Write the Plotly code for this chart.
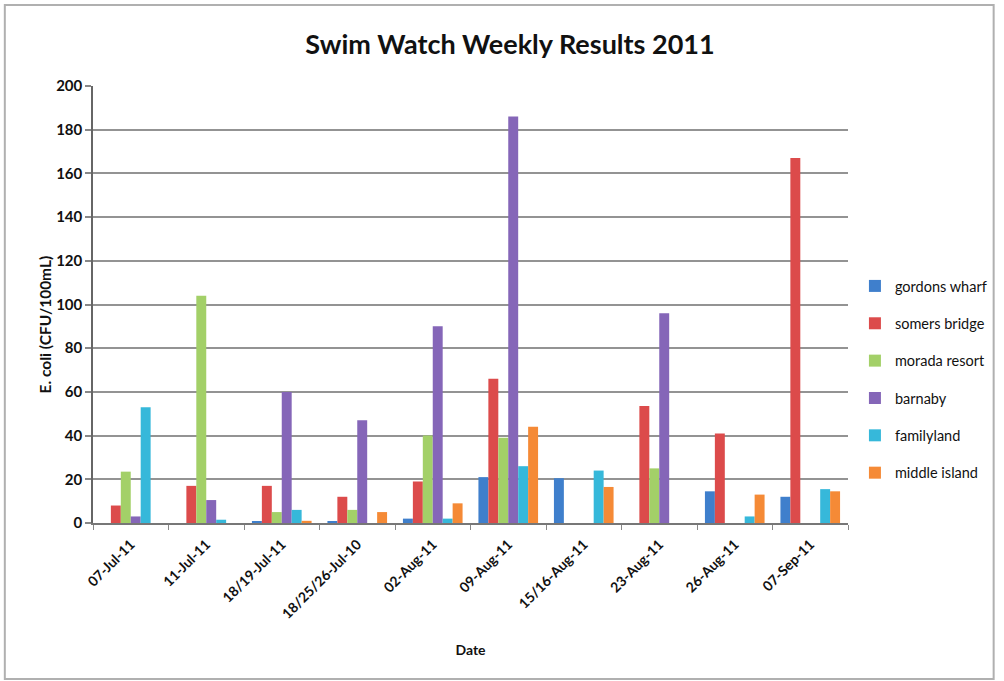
import plotly.graph_objects as go

categories = ["07-Jul-11", "11-Jul-11", "18/19-Jul-11", "18/25/26-Jul-10", "02-Aug-11",
              "09-Aug-11", "15/16-Aug-11", "23-Aug-11", "26-Aug-11", "07-Sep-11"]

gordons_wharf = [0, 0, 0.5, 0.5, 2, 21, 20.5, 0, 14.5, 12]
somers_bridge = [8, 17, 17, 12, 19, 66, 0, 53.5, 41, 167]
morada_resort = [23.5, 104, 5, 6, 40, 39, 0, 25, 0, 0]
barnaby = [3, 10.5, 60, 47, 90, 186, 0, 96, 0, 0]
familyland = [53, 1.5, 6, 0, 2, 26, 24, 0, 3, 15.5]
middle_island = [0, 0, 1, 5, 9, 44, 16.5, 0, 13, 14.5]

series_names = ["gordons wharf", "somers bridge", "morada resort", "barnaby", "familyland", "middle island"]
series_values = [gordons_wharf, somers_bridge, morada_resort, barnaby, familyland, middle_island]
colors = ["#3F7FCC", "#DC4B4B", "#A3D068", "#8566B8", "#36B8DA", "#F58A36"]

FONT = "Lato"

fig = go.Figure()
for name, vals, col in zip(series_names, series_values, colors):
    fig.add_trace(go.Bar(
        x=categories, y=vals, name=name, legendgroup=name,
        marker=dict(color=col, line=dict(width=0)),
    ))

W, H = 1004, 681
L, R, T, B = 93, 855, 86, 523

def px2paper_x(px):
    return (px - L) / (R - L)

def px2paper_y(py):
    return (B - py) / (B - T)

fig.update_layout(
    width=W, height=H,
    margin=dict(l=L, r=W - R, t=T, b=H - B),
    paper_bgcolor="white", plot_bgcolor="white",
    font=dict(family=FONT, color="#111111"),
    barmode="group", bargap=0.21, bargroupgap=0,
    title=dict(text="Swim Watch Weekly Results 2011", x=0.508, xanchor="center",
               y=1 - 45 / H, yanchor="middle",
               font=dict(family=FONT, size=27, weight="bold", color="#111111")),
    legend=dict(x=px2paper_x(862), xanchor="left", y=px2paper_y(270), yanchor="top",
                font=dict(family=FONT, size=14.5, color="#111111"),
                tracegroupgap=15.5, itemwidth=30, bgcolor="rgba(0,0,0,0)"),
    xaxis=dict(
        type="category", tickangle=-45,
        tickfont=dict(family=FONT, size=14, weight="bold", color="#111111"),
        ticklabelstandoff=6,
        showline=True, linecolor="#777777", linewidth=1.5,
        ticks="outside", tickson="boundaries", ticklen=5, tickcolor="#888888", tickwidth=1,
        showgrid=False,
        title=dict(text="Date", font=dict(family=FONT, size=14, weight="bold", color="#111111"),
                   standoff=24),
    ),
    yaxis=dict(
        range=[0, 200], dtick=20,
        tickfont=dict(family=FONT, size=15, weight="bold", color="#111111"),
        showline=True, linecolor="#666666", linewidth=1.5,
        ticks="outside", ticklen=6, tickcolor="#888888", tickwidth=2,
        showgrid=True, gridcolor="#939393", gridwidth=2,
        zeroline=False,
    ),
    annotations=[dict(text="E. coli (CFU/100mL)", textangle=-90, showarrow=False,
                      xref="paper", yref="paper", x=px2paper_x(45), y=px2paper_y(324),
                      xanchor="center", yanchor="middle",
                      font=dict(family=FONT, size=15.5, weight="bold", color="#111111"))],
    shapes=[dict(type="rect", xref="paper", yref="paper",
                 x0=px2paper_x(4), x1=px2paper_x(1002), y0=px2paper_y(679), y1=px2paper_y(5),
                 line=dict(color="#b0b0b0", width=2), fillcolor="rgba(0,0,0,0)", layer="below")],
)

fig.write_html("out.html")
